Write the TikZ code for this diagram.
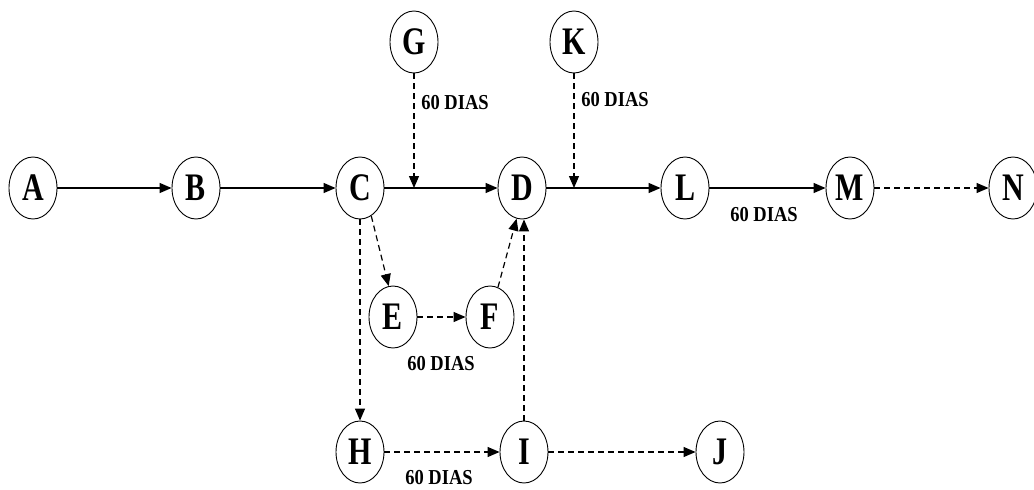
\documentclass[tikz,border=0pt]{standalone}
\usepackage{fontspec}
\setmainfont{Liberation Serif}
\usetikzlibrary{shapes.geometric,arrows.meta}
\newcommand\tallbox[2]{\scalebox{1}[#1]{#2}}
\tikzset{
  ev/.style={ellipse,draw,line width=0.9pt,minimum width=48pt,minimum height=62pt,inner sep=0pt,
    font=\fontsize{30}{30}\selectfont\bfseries},
  act/.style={line width=1.4pt,-{Triangle[length=12pt,width=10pt]}},
  dact/.style={line width=1.2pt,dash pattern=on 6pt off 4pt,-{Triangle[length=12pt,width=10pt]}},
  dur/.style={font=\fontsize{18.5}{18.5}\selectfont\bfseries,inner sep=0pt}
}
\begin{document}
\begin{tikzpicture}[x=1pt,y=-1pt]
\useasboundingbox (0,0) rectangle (1034,490);
\node[ev] (A) at (33,188) {\tallbox{1.3}{A}};
\node[ev] (B) at (196,188) {\tallbox{1.3}{B}};
\node[ev] (C) at (360,188) {\tallbox{1.3}{C}};
\node[ev] (D) at (522,188) {\tallbox{1.3}{D}};
\node[ev] (L) at (685,188) {\tallbox{1.3}{L}};
\node[ev] (M) at (850,188) {\tallbox{1.3}{M}};
\node[ev] (N) at (1013,188) {\tallbox{1.3}{N}};
\node[ev] (G) at (414,42) {\tallbox{1.3}{G}};
\node[ev] (K) at (574,42) {\tallbox{1.3}{K}};
\node[ev] (E) at (393,317) {\tallbox{1.3}{E}};
\node[ev] (F) at (490,317) {\tallbox{1.3}{F}};
\node[ev] (H) at (360,452) {\tallbox{1.3}{H}};
\node[ev] (I) at (524,452) {\tallbox{1.3}{I}};
\node[ev] (J) at (720,452) {\tallbox{1.3}{J}};
\coordinate (gC) at (414,188);
\coordinate (kD) at (574,188);
\draw[act] (A) -- (B);
\draw[act] (B) -- (C);
\draw[act] (C) -- (D);
\draw[act] (D) -- (L);
\draw[act] (L) -- (M);
\draw[dact] (M) -- (N);
\draw[dact] (G) -- (gC);
\draw[dact] (K) -- (kD);
\draw[dact] (C.-68) -- (E.98);
\draw[dact] (E) -- (F);
\draw[dact] (F.75) -- (D.-100);
\draw[dact] (C.south) -- (C.south |- H.north);
\draw[dact] (I.north) -- (I.north |- D.south);
\draw[dact] (H) -- (I);
\draw[dact] (I) -- (J);
\node[dur] (l1) at (455,103) {\tallbox{1.15}{60 DIAS}};
\node[dur] (l2) at (615,100) {\tallbox{1.15}{60 DIAS}};
\node[dur] (l3) at (764,215) {\tallbox{1.15}{60 DIAS}};
\node[dur] (l4) at (441,364) {\tallbox{1.15}{60 DIAS}};
\node[dur] (l5) at (439,478) {\tallbox{1.15}{60 DIAS}};
\end{tikzpicture}
\end{document}
